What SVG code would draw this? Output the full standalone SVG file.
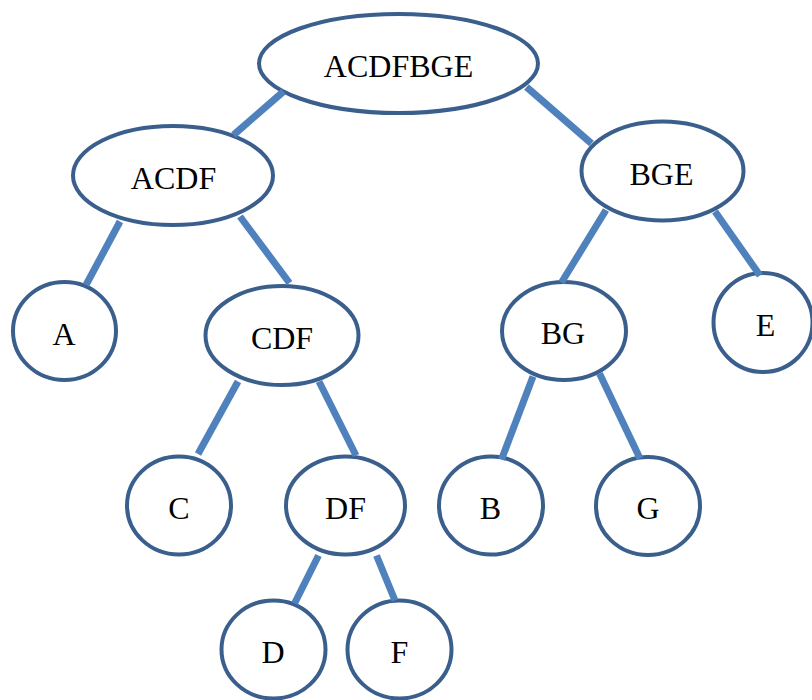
<svg xmlns="http://www.w3.org/2000/svg" width="812" height="700" viewBox="0 0 812 700">
  <style>
    .node ellipse { fill: #ffffff; stroke: #3a5f8d; stroke-width: 4; }
    .node text { font-family: "Liberation Serif", "Times New Roman", serif; font-size: 32px; fill: #000000; text-anchor: middle; }
    .edges line { stroke: #4f81bd; stroke-width: 7; stroke-linecap: butt; }
  </style>
  <rect width="812" height="700" fill="#ffffff"/>

  <g id="n-ACDFBGE" class="node">
    <ellipse cx="398.5" cy="63.5" rx="139.5" ry="49.5"/>
    <text x="398.5" y="76.5">ACDFBGE</text>
  </g>
  <g id="n-ACDF" class="node">
    <ellipse cx="173" cy="175.5" rx="100" ry="49.5"/>
    <text x="173.5" y="188.5">ACDF</text>
  </g>
  <g id="n-BGE" class="node">
    <ellipse cx="662.5" cy="171" rx="81" ry="49.5"/>
    <text x="661.5" y="184.5">BGE</text>
  </g>
  <g id="n-A" class="node">
    <ellipse cx="64.5" cy="331" rx="51.5" ry="49"/>
    <text x="64" y="344.5">A</text>
  </g>
  <g id="n-CDF" class="node">
    <ellipse cx="282" cy="335.5" rx="76.5" ry="49.5"/>
    <text x="282" y="348.5">CDF</text>
  </g>
  <g id="n-BG" class="node">
    <ellipse cx="564" cy="331" rx="62" ry="49"/>
    <text x="563" y="343.5">BG</text>
  </g>
  <g id="n-E" class="node">
    <ellipse cx="763" cy="322.5" rx="49.5" ry="49.5"/>
    <text x="765.5" y="335.5">E</text>
  </g>
  <g id="n-C" class="node">
    <ellipse cx="179" cy="505.5" rx="52" ry="49"/>
    <text x="179" y="518.5">C</text>
  </g>
  <g id="n-DF" class="node">
    <ellipse cx="345.5" cy="505.5" rx="59.5" ry="49"/>
    <text x="345.5" y="518.5">DF</text>
  </g>
  <g id="n-B" class="node">
    <ellipse cx="491" cy="505.5" rx="52" ry="49"/>
    <text x="490.5" y="518.5">B</text>
  </g>
  <g id="n-G" class="node">
    <ellipse cx="648" cy="506" rx="52" ry="49"/>
    <text x="648" y="518.5">G</text>
  </g>
  <g id="n-D" class="node">
    <ellipse cx="273.5" cy="649.5" rx="52" ry="49"/>
    <text x="273" y="662.5">D</text>
  </g>
  <g id="n-F" class="node">
    <ellipse cx="399.5" cy="649.5" rx="52" ry="49"/>
    <text x="399.5" y="662.5">F</text>
  </g>

  <g id="edges" class="edges">
    <line x1="283.5" y1="91.5" x2="233.5" y2="135"/>
    <line x1="526.5" y1="87" x2="591.5" y2="143.5"/>
    <line x1="120" y1="221.5" x2="86" y2="285"/>
    <line x1="240" y1="216.5" x2="289.5" y2="283"/>
    <line x1="606" y1="210" x2="561.5" y2="282.5"/>
    <line x1="715" y1="211.5" x2="760" y2="275.5"/>
    <line x1="238" y1="381.5" x2="198" y2="454"/>
    <line x1="319" y1="381.5" x2="356" y2="455.5"/>
    <line x1="533" y1="376.5" x2="501.5" y2="459.5"/>
    <line x1="599.5" y1="373.5" x2="640" y2="458.5"/>
    <line x1="318.5" y1="555.5" x2="294.5" y2="603.5"/>
    <line x1="376.5" y1="555.5" x2="395" y2="600.5"/>
  </g>
</svg>
